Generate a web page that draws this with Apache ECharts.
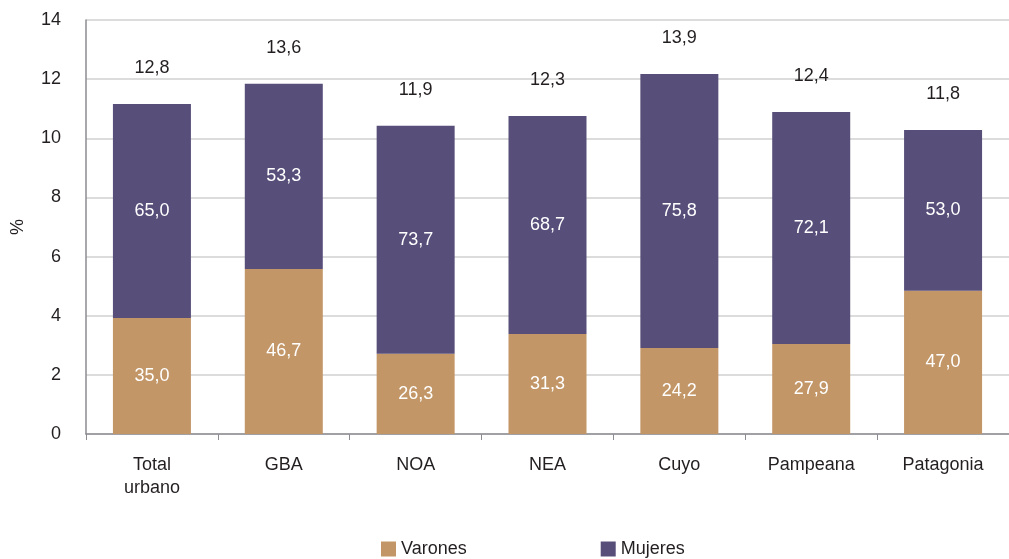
<!DOCTYPE html>
<html>
<head>
<meta charset="utf-8">
<script src="https://cdn.jsdelivr.net/npm/echarts@6/dist/echarts.min.js"></script>
<style>
  html, body { margin: 0; padding: 0; background: #fff; }
  #main { width: 1009px; height: 559px; }
</style>
</head>
<body>
<div id="main"></div>
<script>
// regiones
const categories = ['Total\nurbano', 'GBA', 'NOA', 'NEA', 'Cuyo', 'Pampeana', 'Patagonia'];
// altura de cada tramo en el eje (%)
const varonesHeight = [3.92, 5.58, 2.71, 3.38, 2.91, 3.04, 4.84];
const mujeresHeight = [7.24, 6.26, 7.71, 7.37, 9.26, 7.85, 5.44];
// etiquetas que se muestran
const varonesPct = ['35,0', '46,7', '26,3', '31,3', '24,2', '27,9', '47,0'];
const mujeresPct = ['65,0', '53,3', '73,7', '68,7', '75,8', '72,1', '53,0'];
const totalLabels = ['12,8', '13,6', '11,9', '12,3', '13,9', '12,4', '11,8'];

const FONT = '"Liberation Sans", Arial, sans-serif';
const TXT = '#231f20';
const FS = 18;

var chart = echarts.init(document.getElementById('main'));
chart.setOption({
  animation: false,
  textStyle: { fontFamily: FONT },
  grid: { left: 86, top: 20, bottom: 125, width: 930, containLabel: false },
  legend: {
    left: 376,
    top: 535,
    itemWidth: 15,
    itemHeight: 15,
    itemGap: 134,
    icon: 'rect',
    textStyle: { fontSize: FS, color: TXT, fontFamily: FONT },
    data: ['Varones', 'Mujeres']
  },
  xAxis: {
    type: 'category',
    data: categories,
    axisLine: { lineStyle: { color: '#8c8c92', width: 1.5 } },
    axisTick: { show: true, length: 6, lineStyle: { color: '#8c8c92' } },
    axisLabel: { fontSize: FS, color: TXT, margin: 20, lineHeight: 23 }
  },
  yAxis: {
    type: 'value',
    min: 0,
    max: 14,
    interval: 2,
    name: '%',
    nameLocation: 'middle',
    nameRotate: 90,
    nameGap: 59,
    nameTextStyle: { fontSize: FS, color: TXT },
    axisLine: { show: true, lineStyle: { color: '#8c8c92', width: 1.5 } },
    axisTick: { show: false },
    axisLabel: { fontSize: FS, color: TXT, margin: 25 },
    splitLine: { lineStyle: { color: '#d0d0d0', width: 1.5 } }
  },
  series: [
    {
      name: 'Varones',
      type: 'bar',
      stack: 'tot',
      barWidth: 78,
      data: varonesHeight,
      itemStyle: { color: '#c29667' },
      label: {
        show: true,
        position: 'inside',
        color: '#fff',
        fontSize: FS,
        formatter: p => varonesPct[p.dataIndex]
      }
    },
    {
      name: 'Mujeres',
      type: 'bar',
      stack: 'tot',
      barWidth: 78,
      data: mujeresHeight,
      itemStyle: { color: '#574e79' },
      label: {
        show: true,
        position: 'inside',
        color: '#fff',
        fontSize: FS,
        formatter: p => mujeresPct[p.dataIndex]
      }
    },
    {
      name: 'Total',
      type: 'bar',
      stack: 'tot',
      barWidth: 78,
      data: totalLabels.map(() => 0),
      itemStyle: { color: 'transparent' },
      label: {
        show: true,
        position: 'top',
        distance: 27,
        color: TXT,
        fontSize: FS,
        formatter: p => totalLabels[p.dataIndex]
      }
    }
  ]
});
</script>
</body>
</html>
